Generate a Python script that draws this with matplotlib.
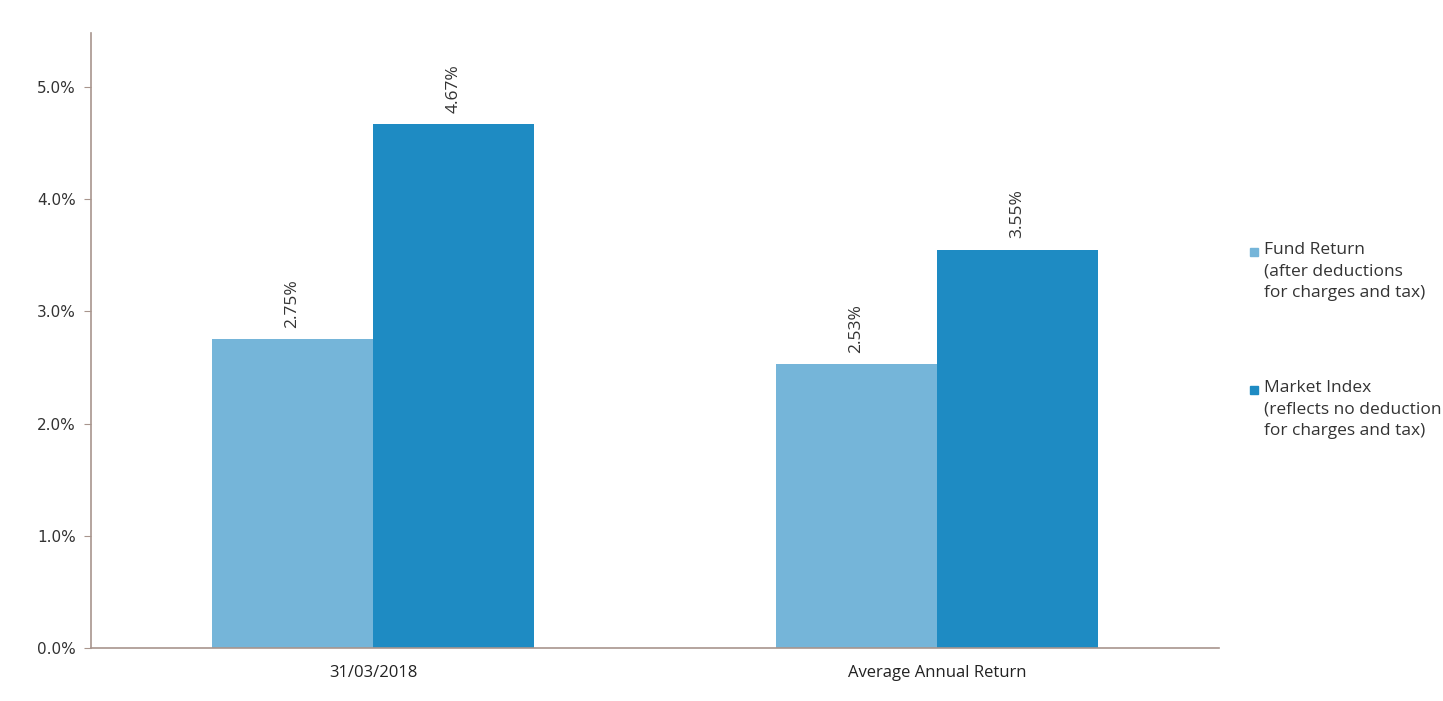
import numpy as np
import matplotlib.pyplot as plt
from matplotlib.patches import Rectangle

categories = ['31/03/2018', 'Average Annual Return']
fund_return = [2.75, 2.53]
market_index = [4.67, 3.55]
series_names = ['Fund Return\n(after deductions\nfor charges and tax)',
                'Market Index\n(reflects no deduction\nfor charges and tax)']
yticks = [0, 1, 2, 3, 4, 5]

fund_col = '#75b5d9'
market_col = '#1e8bc3'
axis_col = '#a8958d'
W, H = 1443, 701

fig = plt.figure(figsize=(14.43, 7.01), dpi=100)
ax = fig.add_axes([0.0631, 0.0756, 0.7817, 0.8773])

x = np.arange(len(categories))
w = 0.2855
b1 = ax.bar(x - w / 2, fund_return, w, color=fund_col)
b2 = ax.bar(x + w / 2, market_index, w, color=market_col)

for bars, vals in [(b1, fund_return), (b2, market_index)]:
    for r, v in zip(bars, vals):
        ax.annotate(f'{v:.2f}%', (r.get_x() + r.get_width() / 2, v),
                    xytext=(0, 8), textcoords='offset points',
                    rotation=90, ha='center', va='bottom',
                    fontsize=12.5, family='Open Sans', color='#333333')

ax.set_xlim(-0.5, 1.5)
ax.set_ylim(0, 5.48)
ax.set_yticks(yticks)
ax.set_yticklabels([f'{t:.1f}%' for t in yticks], fontsize=11, family='DejaVu Sans', color='#333333')
ax.set_xticks(x)
ax.set_xticklabels(categories, fontsize=12, family='Open Sans', color='#222222')
ax.tick_params(axis='x', length=0, pad=12)
ax.tick_params(axis='y', length=5, color=axis_col, direction='out', pad=6)

for s in ['top', 'right']:
    ax.spines[s].set_visible(False)
for s in ['left', 'bottom']:
    ax.spines[s].set_color(axis_col)
    ax.spines[s].set_linewidth(1.2)

# legend drawn by hand: square aligned with first line, as in the original
leg_y = [252, 390]
for name, col, yy in zip(series_names, [fund_col, market_col], leg_y):
    fig.patches.append(Rectangle((1250 / W, 1 - (yy + 4) / H), 8 / W, 8 / H,
                                 transform=fig.transFigure, color=col))
    fig.text(1264 / W, 1 - (yy - 10) / H, name, ha='left', va='top',
             fontsize=12.5, family='Open Sans', color='#333333', linespacing=1.45)

fig.savefig('out.png', dpi=100)
